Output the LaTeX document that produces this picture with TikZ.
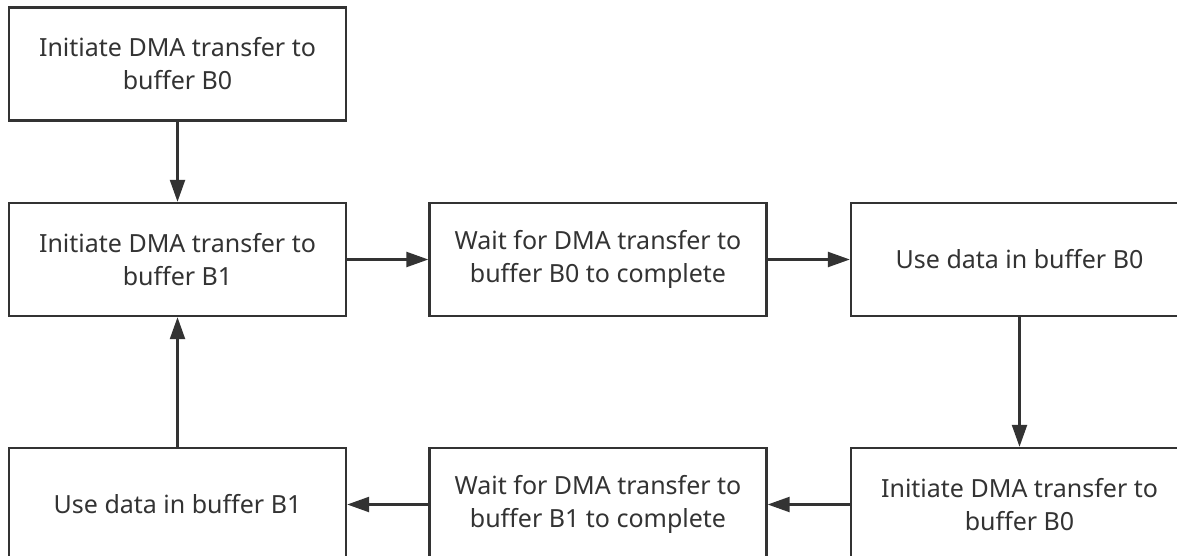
\documentclass[tikz,border=0pt]{standalone}
\usepackage{fontspec}
\setmainfont{Noto Sans}
\usetikzlibrary{arrows.meta}
\definecolor{linea}{HTML}{333333}
\definecolor{texto}{HTML}{333333}
\tikzset{
 paso/.style={draw=linea,line width=2.4pt,fill=white,minimum width=337pt,minimum height=113pt,
  align=center,text=texto,font=\fontsize{25}{33}\selectfont,inner sep=0pt},
 flecha/.style={draw=linea,line width=2.4pt,-{Triangle[length=22pt,width=15pt]}},
}
\begin{document}
\begin{tikzpicture}[x=1pt,y=-1pt]
\useasboundingbox (0,0) rectangle (1177,556);
\clip (0,0) rectangle (1177,556);
\fill[white] (0,0) rectangle (1177,556);
\node[paso] (ini0) at (177.5,64) {Initiate DMA transfer to\\buffer B0};
\node[paso] (ini1) at (177.5,259.5) {Initiate DMA transfer to\\buffer B1};
\node[paso] (esp0) at (598,259.5) {Wait for DMA transfer to\\buffer B0 to complete};
\node[paso] (uso0) at (1019.5,259.5) {Use data in buffer B0};
\node[paso] (ini0b) at (1019.5,504.5) {Initiate DMA transfer to\\buffer B0};
\node[paso] (esp1) at (598,504.5) {Wait for DMA transfer to\\buffer B1 to complete};
\node[paso] (uso1) at (177.5,504.5) {Use data in buffer B1};
\draw[flecha] (ini0) -- (ini1);
\draw[flecha] (ini1) -- (esp0);
\draw[flecha] (esp0) -- (uso0);
\draw[flecha] (uso0) -- (ini0b);
\draw[flecha] (ini0b) -- (esp1);
\draw[flecha] (esp1) -- (uso1);
\draw[flecha] (uso1) -- (ini1);
\end{tikzpicture}
\end{document}
